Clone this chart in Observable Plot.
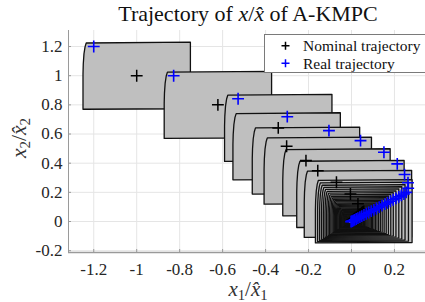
<!DOCTYPE html>
<html><head><meta charset="utf-8">
<script src="https://cdn.jsdelivr.net/npm/d3@7"></script>
<script src="https://cdn.jsdelivr.net/npm/@observablehq/plot@0.6"></script>
<style>
html,body{margin:0;padding:0;background:#fff;}
svg text, svg tspan { font-family: "Liberation Serif", "Times New Roman", serif !important; }
</style>
</head><body><div id="chart"></div>
<script>
// Nominal trajectory (black +) = tube centres
const nominalX = [-1.0, -0.622, -0.341, -0.302, -0.212, -0.157, -0.07, -0.005, 0.03,
  0.057, 0.0536, 0.0504, 0.0473, 0.0445, 0.0418, 0.0393, 0.0370, 0.0347, 0.0327, 0.0307,
  0.0289, 0.0271, 0.0255, 0.0240, 0.0225, 0.0212, 0.0199, 0.0187, 0.0176, 0.0165,
  0.0155, 0.0146, 0.0137, 0.0129, 0.0121, 0.0114, 0.0107, 0.0101, 0.0095, 0.0089,
  0.0084, 0.0079, 0.0074, 0.0070, 0.0065, 0.0061, 0.0058, 0.0054, 0.0051, 0.0048];
const nominalY = [1.0, 0.8, 0.642, 0.516, 0.418, 0.349, 0.269, 0.189, 0.121,
  0.070, 0.0658, 0.0619, 0.0581, 0.0546, 0.0514, 0.0483, 0.0454, 0.0427, 0.0401, 0.0377,
  0.0354, 0.0333, 0.0313, 0.0294, 0.0277, 0.0260, 0.0245, 0.0230, 0.0216, 0.0203,
  0.0191, 0.0179, 0.0169, 0.0159, 0.0149, 0.0140, 0.0132, 0.0124, 0.0116, 0.0109,
  0.0103, 0.0097, 0.0091, 0.0085, 0.0080, 0.0075, 0.0071, 0.0067, 0.0063, 0.0059];
// Tube half-width / half-height per step
const tubeW = [0.25, 0.25, 0.25, 0.25, 0.25, 0.25, 0.25, 0.25, 0.25,
  0.225, 0.2115, 0.1988, 0.1869, 0.1757, 0.1651, 0.1552, 0.1459, 0.1372, 0.1289, 0.1212,
  0.1139, 0.1071, 0.1007, 0.0946, 0.0889, 0.0836, 0.0786, 0.0739, 0.0694, 0.0653,
  0.0614, 0.0577, 0.0542, 0.0510, 0.0479, 0.0450, 0.0423, 0.0398, 0.0374, 0.0352,
  0.0331, 0.0311, 0.0292, 0.0275, 0.0258, 0.0243, 0.0228, 0.0214, 0.0201, 0.0189];
const tubeH = [0.23, 0.23, 0.23, 0.23, 0.23, 0.23, 0.23, 0.23, 0.23,
  0.217, 0.204, 0.1917, 0.1802, 0.1694, 0.1593, 0.1497, 0.1407, 0.1323, 0.1243, 0.1169,
  0.1099, 0.1033, 0.0971, 0.0913, 0.0858, 0.0806, 0.0758, 0.0712, 0.0670, 0.0630,
  0.0592, 0.0556, 0.0523, 0.0492, 0.0462, 0.0434, 0.0408, 0.0384, 0.0361, 0.0339,
  0.0319, 0.0300, 0.0282, 0.0265, 0.0249, 0.0234, 0.0220, 0.0207, 0.0194, 0.0183];
// Normalised tube outline (rounded top-left corner)
const shapeU = [-1, 1, 1, -0.94, -0.962, -0.982, -0.995, -1, -1];
const shapeV = [-1, -0.985, 1, 0.975, 0.86, 0.65, 0.35, 0.05, -1];
// Real trajectory (blue +)
const realX = [-1.2, -0.828, -0.528, -0.299, -0.105, 0.042, 0.151, 0.213, 0.247, 0.263,
  0.264, 0.255, 0.244, 0.232, 0.22, 0.207, 0.194, 0.181, 0.168, 0.155, 0.142, 0.129,
  0.116, 0.104, 0.092, 0.08, 0.069, 0.058, 0.048, 0.039, 0.03, 0.022, 0.015, 0.009,
  0.004, 0.001, -0.002];
const realY = [1.2, 1.0, 0.842, 0.719, 0.623, 0.555, 0.475, 0.395, 0.322, 0.266,
  0.228, 0.2, 0.189, 0.179, 0.169, 0.159, 0.149, 0.139, 0.129, 0.119, 0.109, 0.099,
  0.089, 0.08, 0.071, 0.062, 0.053, 0.045, 0.037, 0.03, 0.023, 0.017, 0.011, 0.007,
  0.003, 0.001, -0.001];
const xTicks = [-1.2, -1, -0.8, -0.6, -0.4, -0.2, 0, 0.2];
const yTicks = [-0.2, 0, 0.2, 0.4, 0.6, 0.8, 1, 1.2];
const xDomain = [-1.3175, 0.3445];
const yDomain = [-0.2125, 1.31];

const polys = nominalX.flatMap((cx, k) => shapeU.map((u, j) => ({
  k, x: cx + u * tubeW[k], y: nominalY[k] + shapeV[j] * tubeH[k]
})));
const nominal = nominalX.map((x, i) => ({x, y: nominalY[i]}));
const real = realX.map((x, i) => ({x, y: realY[i]}));

const W = 425, H = 302, mL = 68, mR = 0, mT = 30, mB = 50;
const axisCol = "#9a9a9a", gridCol = "#e5e5e5";
const serif = "Liberation Serif";

const svg = Plot.plot({
  width: W, height: H, marginLeft: mL, marginRight: mR, marginTop: mT, marginBottom: mB,
  x: {domain: xDomain, axis: null},
  y: {domain: yDomain, axis: null},
  style: {background: "#fff", color: "#222"},
  marks: [
    Plot.ruleX(xTicks, {x: d => d, stroke: gridCol, strokeWidth: 1}),
    Plot.ruleY(yTicks, {y: d => d, stroke: gridCol, strokeWidth: 1}),
    Plot.line(polys, {x: "x", y: "y", z: "k", fill: "#bfbfbf", stroke: "#111", strokeWidth: 1.3, strokeLinejoin: "round", curve: "linear"}),
    Plot.dot(nominal, {x: "x", y: "y", symbol: "plus", r: 3.9, stroke: "#000", strokeWidth: 1.5}),
    Plot.dot(real, {x: "x", y: "y", symbol: "plus", r: 3.9, stroke: "#0000ff", strokeWidth: 1.6}),
    Plot.ruleX([xDomain[0]], {stroke: axisCol, strokeWidth: 1}),
    Plot.ruleY([yDomain[0]], {stroke: axisCol, strokeWidth: 1.5}),
    Plot.tickX(xTicks, {x: d => d, insetTop: H - mT - mB - 3, stroke: axisCol}),
    Plot.tickY(yTicks, {y: d => d, insetRight: W - mL - mR - 3, stroke: axisCol}),
    Plot.text(xTicks, {x: d => d, text: d => String(d), frameAnchor: "bottom", dy: 22, fontSize: 17, fontFamily: serif, fill: "#262626"}),
    Plot.text(yTicks, {y: d => d, text: d => String(d), frameAnchor: "left", dx: -6, textAnchor: "end", fontSize: 17, fontFamily: serif, fill: "#262626"})
  ]
});
document.getElementById("chart").appendChild(svg);

const s = d3.select(svg);
// Title
const t = s.append("text").attr("x", 248).attr("y", 21).attr("text-anchor", "middle")
  .attr("font-family", serif).attr("font-size", 22).attr("fill", "#111");
t.append("tspan").text("Trajectory of ");
t.append("tspan").attr("font-style", "italic").text("x");
t.append("tspan").text("/");
t.append("tspan").attr("font-style", "italic").text("x\u0302");
t.append("tspan").text(" of A-KMPC");

function mathLabel(g, idx) {
  g.append("tspan").attr("font-style", "italic").text("x");
  g.append("tspan").attr("font-size", "0.7em").attr("dy", 4).text(idx);
  g.append("tspan").attr("dy", -4).text("/");
  g.append("tspan").attr("font-style", "italic").text("x\u0302");
  g.append("tspan").attr("font-size", "0.7em").attr("dy", 4).text(idx);
}
const xl = s.append("text").attr("x", 248).attr("y", 296).attr("text-anchor", "middle")
  .attr("font-family", serif).attr("font-size", 21).attr("fill", "#333");
mathLabel(xl, "1");
const yl = s.append("text").attr("transform", "translate(26,138) rotate(-90)").attr("text-anchor", "middle")
  .attr("font-family", serif).attr("font-size", 21.5).attr("fill", "#333");
mathLabel(yl, "2");

// Legend
const lg = s.append("g");
lg.append("rect").attr("x", 264.5).attr("y", 34.5).attr("width", 170).attr("height", 38)
  .attr("fill", "#fff").attr("stroke", "#7a7a7a").attr("stroke-width", 1);
const entries = [["Nominal trajectory", "#000", 45.7], ["Real trajectory", "#0000ff", 63.3]];
for (const [label, col, yy] of entries) {
  lg.append("path").attr("d", `M281.5,${yy}h8M285.5,${yy - 4}v8`).attr("stroke", col).attr("stroke-width", 1.5);
  lg.append("text").attr("x", 303).attr("y", yy).attr("dy", "0.35em").attr("text-anchor", "start")
    .attr("font-family", serif).attr("font-size", 15.5).attr("fill", "#111").text(label);
}
</script>
</body></html>
